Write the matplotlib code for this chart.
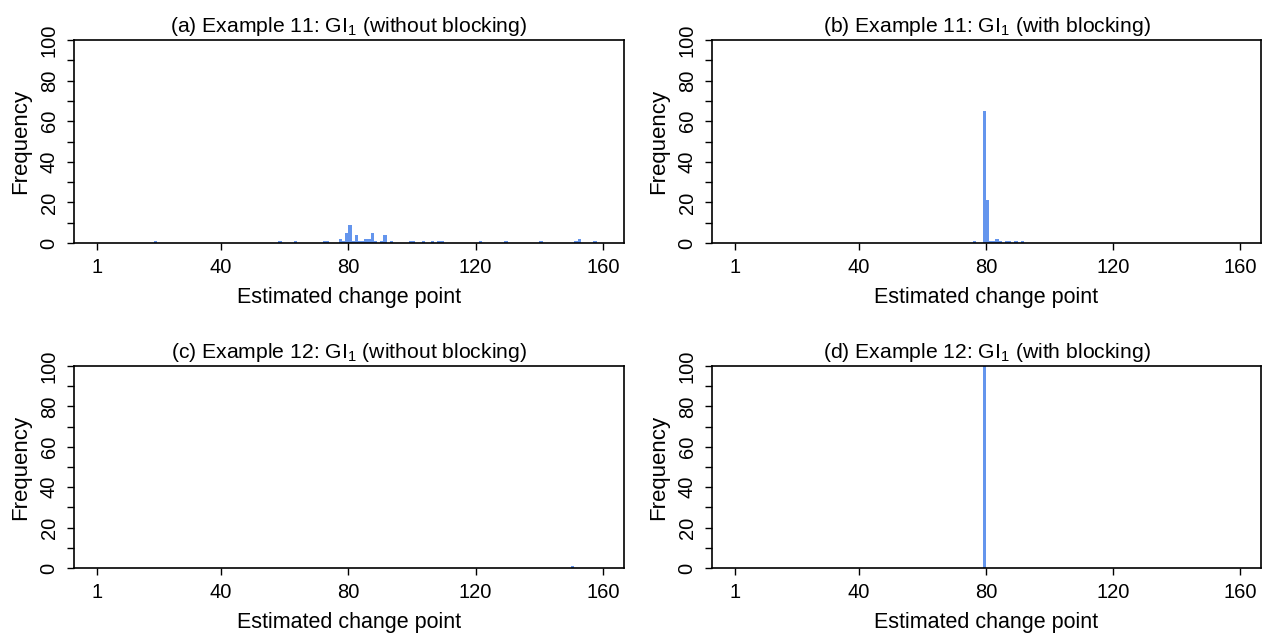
import numpy as np
import matplotlib
matplotlib.use("Agg")
import matplotlib.pyplot as plt

plt.rcParams['font.family'] = ['Liberation Sans', 'DejaVu Sans']
plt.rcParams['mathtext.fontset'] = 'custom'
plt.rcParams['mathtext.rm'] = 'Liberation Sans'
plt.rcParams['mathtext.it'] = 'Liberation Sans:italic'

# estimated change points (bin upper edge) and frequencies
a_points = [20, 59, 64, 73, 74, 78, 79, 80, 81, 82, 83, 84, 85, 86, 87, 88, 89,
            91, 92, 94, 100, 101, 104, 107, 109, 110, 122, 130, 141, 152, 153, 158]
a_counts = [1, 1, 1, 1, 1, 2, 1, 5, 9, 1, 4, 1, 1, 2, 2, 5, 1,
            1, 4, 1, 1, 1, 1, 1, 1, 1, 1, 1, 1, 1, 2, 1]

b_points = [77, 80, 81, 82, 83, 84, 85, 87, 88, 90, 92]
b_counts = [1, 65, 21, 1, 1, 2, 1, 1, 1, 1, 1]

c_points = [151]
c_counts = [1]

d_points = [80]
d_counts = [100]

titles = ["(a) Example 11: GI$_1$ (without blocking)",
          "(b) Example 11: GI$_1$ (with blocking)",
          "(c) Example 12: GI$_1$ (without blocking)",
          "(d) Example 12: GI$_1$ (with blocking)"]

x_ticks = [1, 40, 80, 120, 160]
y_ticks = np.arange(0, 101, 10)
y_labels = [str(v) if v % 20 == 0 else "" for v in y_ticks]

W, H = 1268, 633
fig = plt.figure(figsize=(W / 100, H / 100), dpi=100)

# pixel boxes: left, top, right, bottom
boxes = [(74, 40, 624, 243), (712, 40, 1261, 243),
         (74, 366, 624, 568), (712, 366, 1261, 568)]
data = [(a_points, a_counts), (b_points, b_counts),
        (c_points, c_counts), (d_points, d_counts)]

for (l, t, r, b), (pts, cnt), title in zip(boxes, data, titles):
    ax = fig.add_axes([l / W, 1 - b / H, (r - l) / W, (b - t) / H])
    ax.bar(np.array(pts) - 0.5, cnt, width=1.0, color='#6495ED',
           edgecolor='none', linewidth=0)
    ax.set_xlim(-6.2, 166.6)
    ax.set_ylim(0, 100)
    ax.set_xticks(x_ticks)
    ax.set_yticks(y_ticks)
    ax.set_yticklabels(y_labels, rotation=90, va='center')
    ax.tick_params(direction='out', length=5, width=1, labelsize=14.5, pad=6)
    ax.tick_params(axis='x', pad=6)
    for s in ax.spines.values():
        s.set_linewidth(1.2)
    ax.set_title(title, fontsize=15.2, pad=6)
    ax.set_xlabel("Estimated change point", fontsize=15.5, labelpad=7)
    ax.set_ylabel("Frequency", fontsize=16, labelpad=6)

fig.savefig("out.png", dpi=100)
